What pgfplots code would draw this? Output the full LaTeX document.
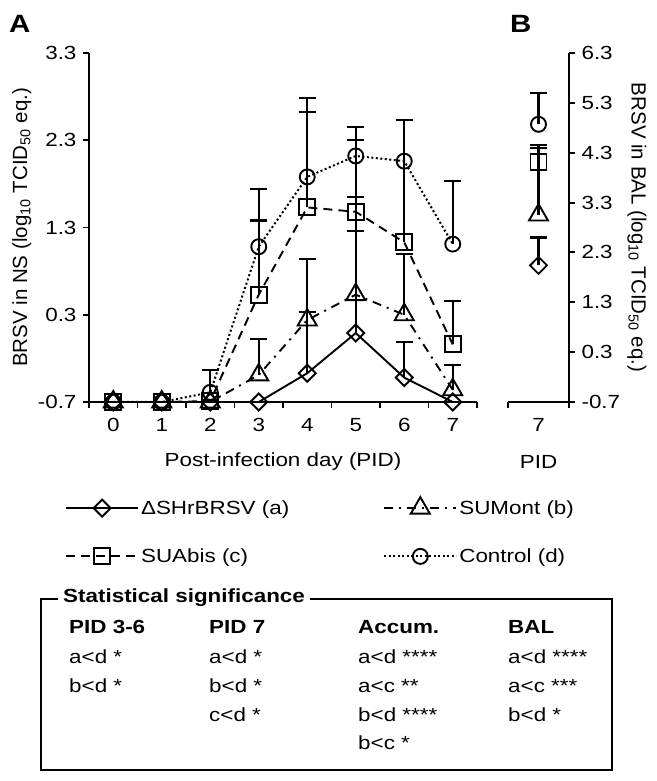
\documentclass[border=0pt]{standalone}
\usepackage{fontspec}
\setmainfont{Liberation Sans}
\newfontfamily\wf{Liberation Sans}[FakeStretch=1.18]
\usepackage{pgfplots}
\pgfplotsset{compat=1.18}
\usepackage{pgfplotstable}
\newcommand\fs{\fontsize{20.5}{24}\selectfont}
\newcommand\wfs{\wf\fontsize{19}{23}\selectfont}

\pgfplotstableread{
x a ae b be c ce d de
0 -0.7 0 -0.7 0 -0.7 0 -0.7 0
1 -0.7 0 -0.7 0 -0.7 0 -0.7 0
2 -0.7 0 -0.7 0 -0.69 0 -0.59 0.26
3 -0.7 0 -0.39 0.41 0.53 0.85 1.08 0.66
4 -0.37 0.70 0.24 0.70 1.53 1.09 1.88 0.90
5 0.09 1.17 0.53 1.12 1.48 0.82 2.12 0.33
6 -0.42 0.41 0.30 0.70 1.13 1.40 2.06 0.47
7 -0.7 0 -0.56 0.28 -0.04 0.50 1.11 0.72
}\dataA

\pgfplotstableread{
x a ae b be c ce d de
7 2.04 0.56 3.05 1.35 4.11 0.34 4.87 0.62
}\dataB

\pgfplotsset{
  sa/.style={black, line width=1.9pt, solid, mark=diamond, mark size=8.5pt,
    mark options={solid, fill=white, xscale=1.33, line width=1.9pt}},
  sb/.style={black, line width=1.9pt, dash pattern=on 9pt off 6pt on 2pt off 6pt, mark=triangle, mark size=11pt,
    mark options={solid, fill=white, line width=1.9pt}},
  sc/.style={black, line width=1.9pt, dash pattern=on 9pt off 6pt, mark=square, mark size=8pt,
    mark options={solid, fill=white, line width=1.9pt}},
  sd/.style={black, line width=2pt, dash pattern=on 2pt off 2.5pt, mark=o, mark size=7.5pt,
    mark options={solid, fill=white, line width=1.9pt}},
  eb/.style={forget plot, draw=none, mark=none,
    error bars/.cd, y dir=plus, y explicit,
    error bar style={draw=black, solid, line width=2.1pt},
    error mark options={rotate=90, draw=black, solid, line width=2.1pt, mark size=8.5pt}},
}

\begin{document}
\begin{tikzpicture}[x=1pt,y=1pt]
\useasboundingbox (0,0) rectangle (656,781);
\node[font=\wf\fontsize{25}{30}\selectfont\bfseries, anchor=base west, inner sep=0pt] at (9,748) {A};
\node[font=\wf\fontsize{25}{30}\selectfont\bfseries, anchor=base west, inner sep=0pt] at (510,748) {B};

\begin{axis}[
  at={(89pt,379pt)}, anchor=south west, scale only axis, width=388pt, height=349pt,
  xmin=-0.5, xmax=7.5, ymin=-0.7, ymax=3.3,
  axis x line*=bottom, axis y line*=left,
  axis line style={line width=2.1pt},
  clip=false,
  xtick={-0.5,0.5,...,7.5}, xticklabels={},
  extra x ticks={0,1,2,3,4,5,6,7}, extra x tick labels={0,1,2,3,4,5,6,7},
  extra x tick style={major tick length=0pt, tick label style={yshift=-13pt}},
  ytick={-0.7,0.3,1.3,2.3,3.3}, yticklabels={-0.7,0.3,1.3,2.3,3.3},
  tick align=outside, major tick length=6pt,
  tick style={line width=1.9pt, black},
  tick label style={font=\wfs},
  yticklabel style={xshift=-3pt},
  xlabel={\wfs Post-infection day (PID)},
  ylabel={BRSV in NS (log\textsubscript{10} TCID\textsubscript{50} eq.)},
  label style={font=\fs},
  xlabel style={at={(axis description cs:0.5,-0.172)}, anchor=center},
  ylabel style={at={(axis description cs:-0.173,0.5)}, anchor=center},
  legend columns=2,
  legend cell align=left,
  legend style={at={(axis description cs:-0.062,-0.272)}, anchor=north west, draw=none, fill=none,
    inner sep=0pt, font=\wfs, row sep=29pt, nodes={inner sep=2pt},
    /tikz/every even column/.append style={column sep=92pt}},
  legend image code/.code={\draw[mark repeat=2, mark phase=2] plot coordinates {(0pt,0pt) (36pt,0pt) (72pt,0pt)};},
]
\addplot[sa] table[x=x, y=a] {\dataA};
\addlegendentry{ΔSHrBRSV (a)}
\addplot[sb] table[x=x, y=b] {\dataA};
\addlegendentry{SUMont (b)}
\addplot[sc] table[x=x, y=c] {\dataA};
\addlegendentry{SUAbis (c)}
\addplot[sd] table[x=x, y=d] {\dataA};
\addlegendentry{Control (d)}
\addplot[eb] table[x=x, y=a, y error=ae] {\dataA};
\addplot[eb] table[x=x, y=b, y error=be] {\dataA};
\addplot[eb] table[x=x, y=c, y error=ce] {\dataA};
\addplot[eb] table[x=x, y=d, y error=de] {\dataA};
\end{axis}

\begin{axis}[
  at={(508pt,379pt)}, anchor=south west, scale only axis, width=61pt, height=349pt,
  xmin=6.5, xmax=7.5, ymin=-0.7, ymax=6.3,
  axis x line*=bottom, axis y line*=right,
  axis line style={line width=2.1pt},
  clip=false,
  xtick={6.5,7.5}, xticklabels={},
  extra x ticks={7}, extra x tick labels={7},
  extra x tick style={major tick length=0pt, tick label style={yshift=-13pt}},
  ytick={-0.7,0.3,1.3,2.3,3.3,4.3,5.3,6.3}, yticklabels={-0.7,0.3,1.3,2.3,3.3,4.3,5.3,6.3},
  tick align=outside, major tick length=6pt,
  tick style={line width=1.9pt, black},
  tick label style={font=\wfs},
  yticklabel style={xshift=3pt},
  xlabel={\wfs PID},
  ylabel={BRSV in BAL (log\textsubscript{10} TCID\textsubscript{50} eq.)},
  label style={font=\fs},
  xlabel style={at={(axis description cs:0.5,-0.172)}, anchor=center},
  ylabel style={at={(axis description cs:2.115,0.5)}, anchor=center, rotate=180},
]
\addplot[sa, only marks] table[x=x, y=a] {\dataB};
\addplot[sb, only marks] table[x=x, y=b] {\dataB};
\addplot[sc, only marks] table[x=x, y=c] {\dataB};
\addplot[sd, only marks] table[x=x, y=d] {\dataB};
\addplot[eb] table[x=x, y=a, y error=ae] {\dataB};
\addplot[eb] table[x=x, y=b, y error=be] {\dataB};
\addplot[eb] table[x=x, y=c, y error=ce] {\dataB};
\addplot[eb] table[x=x, y=d, y error=de] {\dataB};
\end{axis}

\draw[line width=1.5pt] (41,11) rectangle (612,182);
\node[fill=white, anchor=west, font=\wfs\bfseries, inner sep=5pt] at (58,183) {Statistical significance};
\begin{scope}[every node/.style={anchor=base west, inner sep=0pt, font=\wfs}]
\node[font=\wfs\bfseries] at (69,147) {PID 3-6};
\node at (69,117) {a<d *};
\node at (69,88) {b<d *};
\node[font=\wfs\bfseries] at (209,147) {PID 7};
\node at (209,117) {a<d *};
\node at (209,88) {b<d *};
\node at (209,59) {c<d *};
\node[font=\wfs\bfseries] at (358,147) {Accum.};
\node at (358,117) {a<d ****};
\node at (358,88) {a<c **};
\node at (358,59) {b<d ****};
\node at (358,31) {b<c *};
\node[font=\wfs\bfseries] at (508,147) {BAL};
\node at (508,117) {a<d ****};
\node at (508,88) {a<c ***};
\node at (508,59) {b<d *};
\end{scope}
\end{tikzpicture}
\end{document}
